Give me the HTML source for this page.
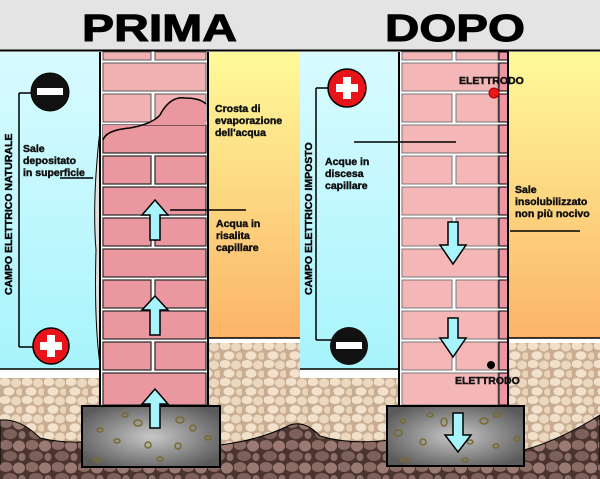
<!DOCTYPE html>
<html><head><meta charset="utf-8"><style>
html,body{margin:0;padding:0;background:#fff}
svg{display:block}
</style></head><body>
<svg width="600" height="479" viewBox="0 0 600 479" xmlns="http://www.w3.org/2000/svg" font-family="Liberation Sans, Arial, sans-serif" font-weight="bold">
<defs>
<pattern id="lg" width="22" height="18" patternUnits="userSpaceOnUse">
<rect width="22" height="18" fill="#c9ad92"/>
<ellipse cx="5" cy="4" rx="5.5" ry="4" fill="#f1e0ca"/>
<ellipse cx="16" cy="5" rx="5" ry="4.5" fill="#ecd8be"/>
<ellipse cx="9" cy="13.5" rx="5.5" ry="4.2" fill="#f2e2cd"/>
<ellipse cx="19.5" cy="14" rx="3.5" ry="3.8" fill="#e9d4b8"/>
</pattern>
<pattern id="dg" width="26" height="22" patternUnits="userSpaceOnUse">
<rect width="26" height="22" fill="#4a3430"/>
<ellipse cx="6" cy="5" rx="6.5" ry="5" fill="#8a6b65"/>
<ellipse cx="19" cy="6" rx="6" ry="5.5" fill="#9a7a73"/>
<ellipse cx="10" cy="16" rx="7" ry="5" fill="#7e605a"/>
<ellipse cx="22" cy="17" rx="3.5" ry="4" fill="#8d6f68"/>
</pattern>
<linearGradient id="yo" x1="0" y1="0" x2="0" y2="1">
<stop offset="0" stop-color="#fefa9a"/><stop offset="1" stop-color="#fcb46a"/>
</linearGradient>
<linearGradient id="cy" x1="0" y1="0" x2="0" y2="1">
<stop offset="0" stop-color="#d8fbff"/><stop offset="1" stop-color="#a8f4fc"/>
</linearGradient>
<radialGradient id="ft" cx="0.5" cy="0.5" r="0.6">
<stop offset="0" stop-color="#c8c8c8"/><stop offset="1" stop-color="#5a5a5a"/>
</radialGradient>
</defs>
<rect width="600" height="479" fill="#fff"/>
<rect width="600" height="50" fill="#e4e4e4"/>
<line x1="0" y1="50.5" x2="600" y2="50.5" stroke="#000" stroke-width="2"/>
<text x="82" y="41" font-size="38" font-weight="bold" textLength="155" lengthAdjust="spacingAndGlyphs" stroke="#000" stroke-width="1">PRIMA</text>
<text x="385" y="41" font-size="38" font-weight="bold" textLength="140" lengthAdjust="spacingAndGlyphs" stroke="#000" stroke-width="1">DOPO</text>

<rect x="0" y="378" width="600" height="101" fill="url(#lg)"/>
<path d="M0 420 Q20 418 40 438 Q70 445 100 440 L100 479 L0 479Z" fill="url(#dg)" stroke="#000" stroke-width="1"/>
<path d="M220 445 Q260 440 290 425 Q305 420 320 436 Q350 445 390 440 L390 479 L220 479Z" fill="url(#dg)" stroke="#000" stroke-width="1"/>
<path d="M524 450 Q560 440 600 415 L600 479 L524 479Z" fill="url(#dg)" stroke="#000" stroke-width="1"/>
<rect x="0" y="465" width="600" height="14" fill="url(#dg)"/>

<rect x="0" y="52" width="100" height="317" fill="url(#cy)"/>
<line x1="0" y1="369" x2="100" y2="369" stroke="#000" stroke-width="1.5"/>
<rect x="0" y="370" width="100" height="8" fill="#fff"/>
<rect x="208" y="52" width="92" height="286" fill="url(#yo)"/>
<line x1="208" y1="338" x2="300" y2="338" stroke="#000" stroke-width="1.5"/>
<rect x="208" y="339" width="92" height="4" fill="#fff"/>
<rect x="208" y="343" width="92" height="35" fill="url(#lg)"/>
<path d="M100 130 Q92 200 96 250 Q94 320 100 365 Z" fill="#e3e0dc" stroke="#000" stroke-width="1"/>
<rect x="100" y="52" width="108" height="354" fill="#fff"/>
<g fill="#f2b2b4" stroke="#555" stroke-width="1">
<rect x="103" y="52" width="48" height="8"/><rect x="155" y="52" width="51" height="8"/>
<rect x="103" y="63" width="103" height="28"/>
<rect x="103" y="94" width="48" height="28"/><rect x="155" y="94" width="51" height="28"/>
</g>
<g fill="#eb97a0" stroke="#333" stroke-width="1.3">
<rect x="103" y="125" width="103" height="28"/>
<rect x="103" y="156" width="48" height="28"/><rect x="155" y="156" width="51" height="28"/>
<rect x="103" y="187" width="103" height="28"/>
<rect x="103" y="218" width="48" height="28"/><rect x="155" y="218" width="51" height="28"/>
<rect x="103" y="249" width="103" height="28"/>
<rect x="103" y="280" width="48" height="28"/><rect x="155" y="280" width="51" height="28"/>
<rect x="103" y="311" width="103" height="28"/>
<rect x="103" y="342" width="48" height="28"/><rect x="155" y="342" width="51" height="28"/>
<rect x="103" y="373" width="103" height="32"/>
</g>
<path d="M103 140 Q106 130 130 128 Q152 124 160 115 Q170 96 185 98 Q200 98 206 104 L206 125 L103 125Z" fill="#eb97a0" stroke="none"/>
<path d="M103 140 Q106 130 130 128 Q152 124 160 115 Q170 96 185 98 Q200 98 206 104" fill="none" stroke="#000" stroke-width="1.5"/>
<line x1="100" y1="52" x2="100" y2="406" stroke="#000" stroke-width="2"/>
<line x1="208" y1="52" x2="208" y2="406" stroke="#000" stroke-width="2"/>
<rect x="82" y="406" width="138" height="61" fill="url(#ft)" stroke="#000" stroke-width="2"/>
<g fill="none" stroke="#7a6a30" stroke-width="1.5">
<ellipse cx="125" cy="415" rx="3" ry="2"/><ellipse cx="138" cy="423" rx="4" ry="3"/><ellipse cx="180" cy="420" rx="4" ry="3"/><ellipse cx="193" cy="428" rx="3" ry="3"/><ellipse cx="100" cy="430" rx="3" ry="2"/><ellipse cx="117" cy="441" rx="3" ry="2"/><ellipse cx="148" cy="445" rx="3" ry="3"/><ellipse cx="178" cy="446" rx="3" ry="3"/><ellipse cx="208" cy="438" rx="3" ry="2"/><ellipse cx="97" cy="460" rx="4" ry="2"/><ellipse cx="160" cy="459" rx="3" ry="2"/>
</g>
<g fill="#a8f4fc" stroke="#000" stroke-width="1.5">
<path d="M155 200 L168 215 L160 215 L160 240 L150 240 L150 215 L142 215Z"/>
<path d="M155 296 L168 310 L160 310 L160 335 L150 335 L150 310 L142 310Z"/>
<path d="M155 389 L168 404 L160 404 L160 428 L150 428 L150 404 L142 404Z"/>
</g>
<line x1="19" y1="93" x2="19" y2="347" stroke="#000" stroke-width="1.5"/>
<line x1="19" y1="93" x2="34" y2="93" stroke="#000" stroke-width="1.5"/>
<line x1="19" y1="347" x2="34" y2="347" stroke="#000" stroke-width="1.5"/>
<circle cx="50" cy="92" r="19" fill="#111" stroke="#000"/>
<rect x="37" y="88" width="26" height="7" fill="#fff"/>
<circle cx="51" cy="346" r="18" fill="#e8141a" stroke="#000" stroke-width="1.5"/>
<rect x="47" y="335" width="8" height="22" fill="#fff"/><rect x="40" y="342" width="22" height="8" fill="#fff"/>
<text transform="translate(12 295) rotate(-90)" font-size="10.5" font-weight="bold" stroke="#111" stroke-width="0.45">CAMPO ELETTRICO NATURALE</text>
<g font-size="10.5" fill="#111" font-weight="bold" stroke="#111" stroke-width="0.45">
<text x="23" y="152">Sale</text><text x="23" y="164">depositato</text><text x="23" y="176">in superficie</text>
<text x="215" y="112">Crosta di</text><text x="215" y="124">evaporazione</text><text x="215" y="136">dell'acqua</text>
<text x="216" y="227">Acqua in</text><text x="216" y="239">risalita</text><text x="216" y="251">capillare</text>
</g>
<line x1="60" y1="178" x2="93" y2="178" stroke="#000" stroke-width="1.5"/>
<line x1="170" y1="210" x2="246" y2="210" stroke="#000" stroke-width="1.5"/>

<rect x="300" y="52" width="99" height="317" fill="url(#cy)"/>
<line x1="300" y1="369" x2="399" y2="369" stroke="#000" stroke-width="1.5"/>
<rect x="300" y="370" width="99" height="8" fill="#fff"/>
<rect x="508" y="52" width="92" height="286" fill="url(#yo)"/>
<line x1="508" y1="338" x2="600" y2="338" stroke="#000" stroke-width="1.5"/>
<rect x="508" y="339" width="92" height="4" fill="#fff"/>
<rect x="508" y="343" width="92" height="35" fill="url(#lg)"/>
<rect x="399" y="52" width="109" height="354" fill="#fff"/>
<g fill="#f4b6b6" stroke="#777" stroke-width="1">
<rect x="402" y="52" width="50" height="8"/><rect x="456" y="52" width="42" height="8"/>
<rect x="402" y="63" width="96" height="28"/>
<rect x="402" y="94" width="50" height="28"/><rect x="456" y="94" width="42" height="28"/>
<rect x="402" y="125" width="96" height="28"/>
<rect x="402" y="156" width="50" height="28"/><rect x="456" y="156" width="42" height="28"/>
<rect x="402" y="187" width="96" height="28"/>
<rect x="402" y="218" width="50" height="28"/><rect x="456" y="218" width="42" height="28"/>
<rect x="402" y="249" width="96" height="28"/>
<rect x="402" y="280" width="50" height="28"/><rect x="456" y="280" width="42" height="28"/>
<rect x="402" y="311" width="96" height="28"/>
<rect x="402" y="342" width="50" height="28"/><rect x="456" y="342" width="42" height="28"/>
<rect x="402" y="373" width="96" height="32"/>
</g>
<g fill="#ee95a4" stroke="#000" stroke-width="1">
<rect x="499" y="52" width="9" height="8"/><rect x="499" y="63" width="9" height="28"/><rect x="499" y="94" width="9" height="28"/><rect x="499" y="125" width="9" height="28"/><rect x="499" y="156" width="9" height="28"/><rect x="499" y="187" width="9" height="28"/><rect x="499" y="218" width="9" height="28"/><rect x="499" y="249" width="9" height="28"/><rect x="499" y="280" width="9" height="28"/><rect x="499" y="311" width="9" height="28"/><rect x="499" y="342" width="9" height="28"/><rect x="499" y="373" width="9" height="32"/>
</g>
<line x1="399" y1="52" x2="399" y2="406" stroke="#000" stroke-width="2"/>
<line x1="508" y1="52" x2="508" y2="406" stroke="#000" stroke-width="2"/>
<rect x="387" y="406" width="137" height="60" fill="url(#ft)" stroke="#000" stroke-width="2"/>
<g fill="none" stroke="#7a6a30" stroke-width="1.5">
<ellipse cx="430" cy="415" rx="3" ry="2"/><ellipse cx="444" cy="422" rx="3" ry="4"/><ellipse cx="484" cy="421" rx="4" ry="3"/><ellipse cx="497" cy="415" rx="4" ry="2"/><ellipse cx="403" cy="421" rx="3" ry="2"/><ellipse cx="398" cy="433" rx="4" ry="3"/><ellipse cx="423" cy="442" rx="3" ry="3"/><ellipse cx="470" cy="442" rx="3" ry="2"/><ellipse cx="496" cy="446" rx="3" ry="2"/><ellipse cx="517" cy="439" rx="3" ry="2"/><ellipse cx="405" cy="460" rx="4" ry="2"/><ellipse cx="465" cy="460" rx="3" ry="2"/>
</g>
<g fill="#a8f4fc" stroke="#000" stroke-width="1.5">
<path d="M448 222 L458 222 L458 245 L466 245 L453 264 L440 245 L448 245Z"/>
<path d="M448 318 L458 318 L458 338 L466 338 L453 357 L440 338 L448 338Z"/>
<path d="M453 413 L463 413 L463 435 L471 435 L458 452 L445 435 L453 435Z"/>
</g>
<line x1="316" y1="88" x2="316" y2="340" stroke="#000" stroke-width="1.5"/>
<line x1="316" y1="88" x2="330" y2="88" stroke="#000" stroke-width="1.5"/>
<line x1="316" y1="340" x2="332" y2="340" stroke="#000" stroke-width="1.5"/>
<circle cx="347" cy="88" r="19" fill="#e8141a" stroke="#000" stroke-width="1.5"/>
<rect x="343" y="77" width="8" height="22" fill="#fff"/><rect x="336" y="84" width="22" height="8" fill="#fff"/>
<circle cx="349" cy="346" r="19" fill="#111"/>
<rect x="336" y="342" width="26" height="7" fill="#fff"/>
<text transform="translate(312 295) rotate(-90)" font-size="10.5" font-weight="bold" stroke="#111" stroke-width="0.45">CAMPO ELETTRICO IMPOSTO</text>
<g font-size="10.5" fill="#111" font-weight="bold" stroke="#111" stroke-width="0.45">
<text x="459" y="84">ELETTRODO</text>
<text x="325" y="165">Acque in</text><text x="325" y="177">discesa</text><text x="325" y="189">capillare</text>
<text x="515" y="193">Sale</text><text x="515" y="205">insolubilizzato</text><text x="515" y="217">non più nocivo</text>
<text x="455" y="384">ELETTRODO</text>
</g>
<circle cx="494" cy="93" r="5" fill="#e81818" stroke="#a00"/>
<circle cx="491" cy="365" r="4" fill="#000"/>
<line x1="354" y1="142" x2="456" y2="142" stroke="#000" stroke-width="1.5"/>
<line x1="510" y1="231" x2="580" y2="231" stroke="#000" stroke-width="1.5"/>
</svg>
</body></html>
